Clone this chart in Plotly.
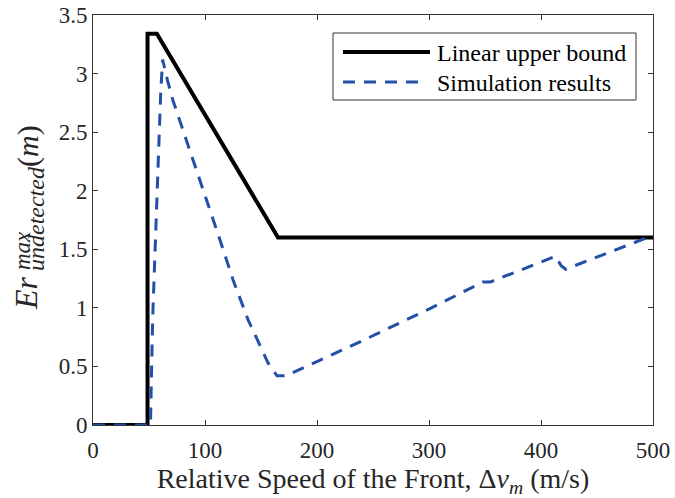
import plotly.graph_objects as go

# Data
bound_x = [0, 48.7, 48.7, 57, 165.2, 500]
bound_y = [0, 0, 3.34, 3.34, 1.6, 1.6]

sim_x = [0, 51.3, 53.3, 56.0, 58.9, 60.5, 62.2, 66, 71.4, 80, 92, 113.4, 125, 138.4,
         156.3, 164.3, 172.3, 238.4, 300, 348, 354.5, 413, 418, 422, 495]
sim_y = [0, 0, 0.92, 1.69, 2.43, 2.85, 3.12, 2.96, 2.77, 2.53, 2.19, 1.58, 1.24, 0.90,
         0.53, 0.42, 0.42, 0.71, 0.99, 1.22, 1.22, 1.44, 1.36, 1.33, 1.60]

series_names = ["Linear upper bound", "Simulation results"]

x_ticks = [0, 100, 200, 300, 400, 500]
y_ticks = [0, 0.5, 1, 1.5, 2, 2.5, 3, 3.5]
y_tick_labels = ["0", "0.5", "1", "1.5", "2", "2.5", "3", "3.5"]

SERIF = "'Liberation Serif', 'Times New Roman', Times, 'DejaVu Serif', serif"
AX = "#333333"
TXT = "#262626"
BLUE = "#2250a8"

fig = go.Figure()
fig.add_trace(go.Scatter(x=bound_x, y=bound_y, mode="lines", name=series_names[0],
                         line=dict(color="black", width=4), showlegend=False))
fig.add_trace(go.Scatter(x=sim_x, y=sim_y, mode="lines", name=series_names[1],
                         line=dict(color=BLUE, width=3, dash="12px,9px"), showlegend=False))

W, H = 675, 498
L, R, T, B = 93, 22, 15, 73
pw, ph = W - L - R, H - T - B

def px2paper(px, py):
    return (px - L) / pw, (H - B - py) / ph

annos = []
# y-axis title built from stacked pieces
for txt, size, cx, cy in [
    ("<i>Er</i>", 32, 26, 293),
    ("<i>max</i>", 23, 22, 251),
    ("<i>undetected</i>", 24, 36, 219),
    ("(<i>m</i>)", 30, 28, 146),
]:
    ax_, ay_ = px2paper(cx, cy)
    annos.append(dict(text=txt, x=ax_, y=ay_, xref="paper", yref="paper",
                      xanchor="center", yanchor="middle", textangle=-90,
                      showarrow=False, font=dict(family=SERIF, size=size, color=TXT)))

# legend (box, samples, labels)
shapes = []
bx0, by0 = px2paper(333, 33)
bx1, by1 = px2paper(636, 100)
shapes.append(dict(type="rect", xref="paper", yref="paper", x0=bx0, y0=by0, x1=bx1, y1=by1,
                   line=dict(color=AX, width=1), fillcolor="white", layer="above"))
for i, (name, color, width, dash, ly, lx1) in enumerate([
    (series_names[0], "black", 4, "solid", 52, 430),
    (series_names[1], BLUE, 3, "12px,9px", 82, 422),
]):
    sx0, sy = px2paper(343, ly)
    sx1, _ = px2paper(lx1, ly)
    shapes.append(dict(type="line", xref="paper", yref="paper", x0=sx0, y0=sy, x1=sx1, y1=sy,
                       line=dict(color=color, width=width, dash=dash), layer="above"))
    tx, ty = px2paper(435, ly + 1)
    annos.append(dict(text=name, x=tx, y=ty, xref="paper", yref="paper",
                      xanchor="left", yanchor="middle", showarrow=False,
                      font=dict(family=SERIF, size=24, color="black")))

fig.update_layout(
    width=W, height=H,
    margin=dict(l=L, r=R, t=T, b=B, autoexpand=False),
    paper_bgcolor="white", plot_bgcolor="white",
    font=dict(family=SERIF, size=23, color=TXT),
    showlegend=False,
    annotations=annos,
    shapes=shapes,
)
fig.update_xaxes(range=[0, 500], tickvals=x_ticks, ticks="inside", ticklen=5,
                 tickcolor=AX, showline=True, linecolor=AX, linewidth=1, mirror="ticks",
                 showgrid=False, zeroline=False, automargin=False, ticklabelstandoff=4,
                 tickfont=dict(family=SERIF, size=23, color=TXT),
                 title=dict(text="Relative Speed of the Front, Δ<i>v<sub>m</sub></i> (m/s)",
                            font=dict(family=SERIF, size=28, color=TXT), standoff=9))
fig.update_yaxes(range=[0, 3.5], tickvals=y_ticks, ticktext=y_tick_labels, ticks="inside",
                 ticklen=5, tickcolor=AX, showline=True, linecolor=AX, linewidth=1,
                 mirror="ticks", showgrid=False, zeroline=False, automargin=False,
                 tickfont=dict(family=SERIF, size=23, color=TXT))

fig.write_html("out.html")
